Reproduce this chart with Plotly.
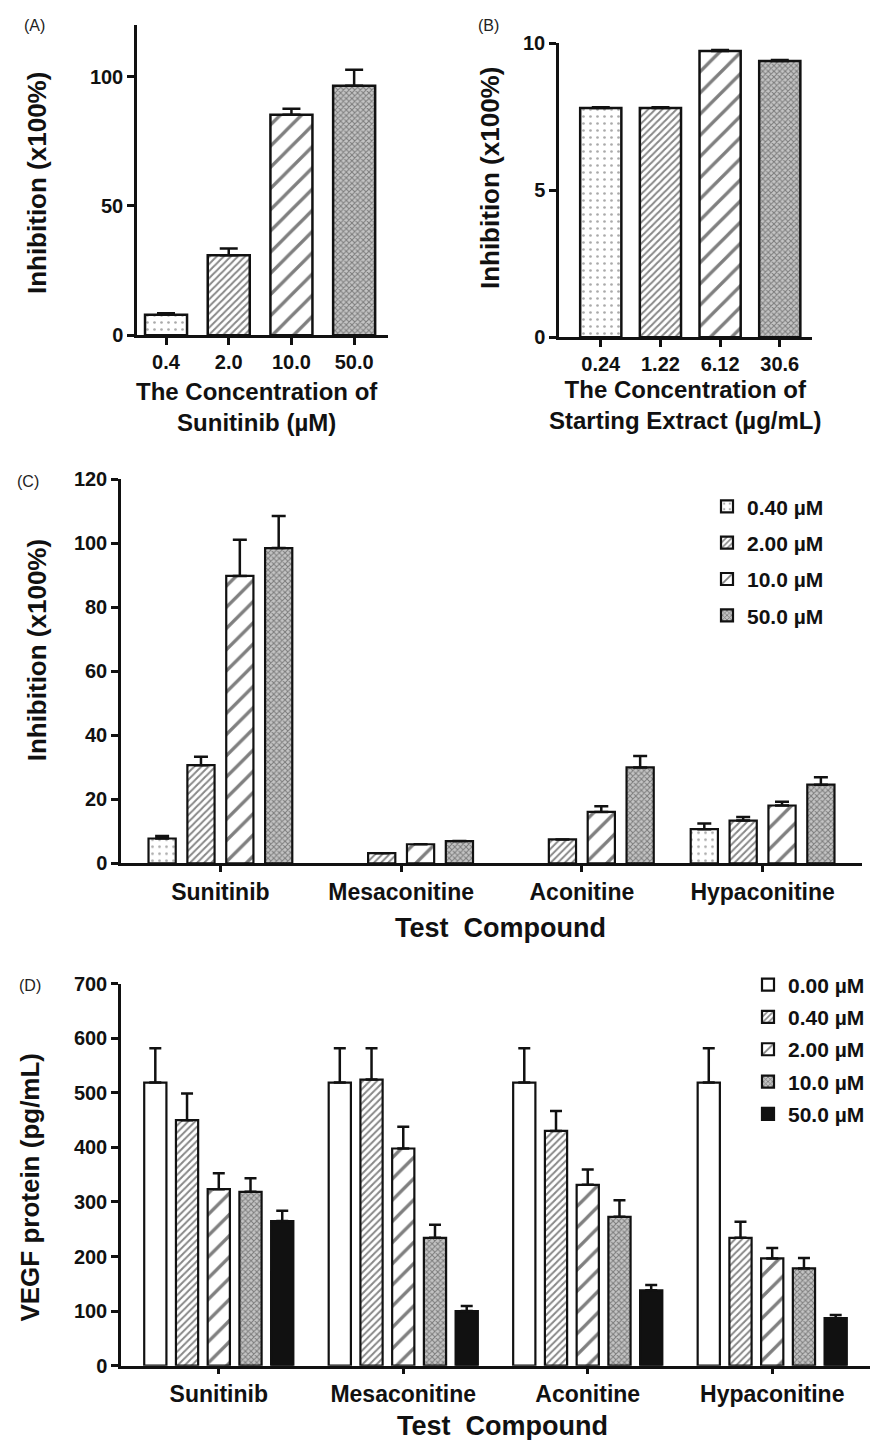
import plotly.graph_objects as go

# ---------------- data ----------------
a_labels = ["0.4", "2.0", "10.0", "50.0"]
a_values = [7.9, 30.9, 85.3, 96.5]
a_errors = [0.6, 2.6, 2.3, 6.2]

b_labels = ["0.24", "1.22", "6.12", "30.6"]
b_values = [7.79, 7.79, 9.73, 9.39]
b_errors = [0.03, 0.03, 0.03, 0.03]

compounds = ["Sunitinib", "Mesaconitine", "Aconitine", "Hypaconitine"]

c_series = ["0.40 µM", "2.00 µM", "10.0 µM", "50.0 µM"]
c_values = [
    [7.8, None, None, 10.7],
    [30.7, 3.2, 7.5, 13.4],
    [89.8, 6.0, 16.1, 18.1],
    [98.5, 7.0, 30.0, 24.6],
]
c_errors = [
    [0.8, None, None, 1.8],
    [2.6, 0.0, 0.0, 1.1],
    [11.3, 0.0, 1.8, 1.2],
    [10.0, 0.0, 3.6, 2.3],
]

d_series = ["0.00 µM", "0.40 µM", "2.00 µM", "10.0 µM", "50.0 µM"]
d_values = [
    [518.6, 518.6, 518.6, 518.6],
    [449.7, 524.1, 430.1, 234.3],
    [323.4, 397.8, 331.3, 196.5],
    [318.5, 234.3, 272.7, 178.2],
    [265.0, 100.0, 138.0, 87.0],
]
d_errors = [
    [63.0, 63.0, 63.0, 63.0],
    [48.8, 57.4, 36.6, 29.3],
    [29.3, 39.7, 28.1, 18.9],
    [25.0, 23.8, 30.5, 18.9],
    [19.0, 9.6, 10.0, 6.0],
]

# ---------------- styles ----------------
FONT = "Liberation Sans, Arial, Helvetica, sans-serif"
INK = "#111111"

PAT = {
    "white": dict(shape="", fgcolor=INK, bgcolor="white", size=8, solidity=0.2),
    "dots": dict(shape=".", fgcolor="#555555", bgcolor="white", size=7, solidity=0.12),
    "dense": dict(shape="/", fgcolor=INK, bgcolor="white", size=5, solidity=0.4),
    "wide": dict(shape="/", fgcolor="#000000", bgcolor="white", size=15, solidity=0.22),
    "check": dict(shape="x", fgcolor="#333333", bgcolor="#c4c4c4", size=4, solidity=0.45),
    "black": dict(shape="", fgcolor=INK, bgcolor=INK, size=8, solidity=0.2),
}
FILL = {"white": "white", "black": INK}

ab_styles = ["dots", "dense", "wide", "check"]
c_styles = ["dots", "dense", "wide", "check"]
d_styles = ["white", "dense", "wide", "check", "black"]


def pattern_arrays(names):
    return dict(
        shape=[PAT[n]["shape"] for n in names],
        fgcolor=[PAT[n]["fgcolor"] for n in names],
        bgcolor=[PAT[n]["bgcolor"] for n in names],
        size=[PAT[n]["size"] for n in names],
        solidity=[PAT[n]["solidity"] for n in names],
    )


def err(arr, w):
    return dict(type="data", array=arr, arrayminus=[0 if v is not None else None for v in arr],
                symmetric=False, color=INK, thickness=2.5, width=w, visible=True)


fig = go.Figure()

# Panel A
fig.add_trace(go.Bar(
    x=a_labels, y=a_values, width=0.67, xaxis="x", yaxis="y", showlegend=False,
    marker=dict(color="white", line=dict(color=INK, width=2.5), pattern=pattern_arrays(ab_styles)),
    error_y=err(a_errors, 9),
))
# Panel B
fig.add_trace(go.Bar(
    x=b_labels, y=b_values, width=0.69, xaxis="x2", yaxis="y2", showlegend=False,
    marker=dict(color="white", line=dict(color=INK, width=2.5), pattern=pattern_arrays(ab_styles)),
    error_y=err(b_errors, 9),
))
# Panel C
for i, name in enumerate(c_series):
    st = c_styles[i]
    fig.add_trace(go.Bar(
        x=compounds, y=c_values[i], name=name, xaxis="x3", yaxis="y3",
        legend="legend", legendgroup="c" + str(i),
        marker=dict(color=FILL.get(st, "white"), line=dict(color=INK, width=2.2), pattern=PAT[st]),
        error_y=err(c_errors[i], 7),
    ))
# Panel D
for i, name in enumerate(d_series):
    st = d_styles[i]
    fig.add_trace(go.Bar(
        x=compounds, y=d_values[i], name=name, xaxis="x4", yaxis="y4",
        legend="legend2", legendgroup="d" + str(i),
        marker=dict(color=FILL.get(st, "white"), line=dict(color=INK, width=2.2), pattern=PAT[st]),
        error_y=err(d_errors[i], 6),
    ))

W, H = 877, 1440
# the page capture squeezes the figure vertically a little; target positions are
# given in picture pixels and mapped back to figure pixels here
Y_OFF, Y_SCALE = 11.0, 0.9842


def px(x):
    return x / W


def py(y):
    return 1 - ((y - Y_OFF) / Y_SCALE) / H


axis_common = dict(showline=True, linecolor=INK, linewidth=2.5, ticks="outside", tickcolor=INK,
                   tickwidth=2.5, ticklen=7, showgrid=False, zeroline=False,
                   tickfont=dict(family=FONT, size=20, color=INK, weight="bold"))
cat_axis = {**axis_common, "ticklen": 6,
            "tickfont": dict(family=FONT, size=23, color=INK, weight="bold")}

fig.update_layout(
    width=W, height=H, margin=dict(l=0, r=0, t=0, b=0),
    paper_bgcolor="white", plot_bgcolor="white",
    barmode="group", bargap=0.14, bargroupgap=0.3,
    font=dict(family=FONT, color=INK),
    xaxis=dict(domain=[px(137), px(388)], anchor="y", type="category", range=[-0.463, 3.54], **axis_common),
    yaxis=dict(domain=[py(335), py(25)], anchor="x", range=[0, 120], tickvals=[0, 50, 100], **axis_common),
    xaxis2=dict(domain=[px(559), px(812)], anchor="y2", type="category", range=[-0.70, 3.54], **axis_common),
    yaxis2=dict(domain=[py(337), py(43)], anchor="x2", range=[0, 10], tickvals=[0, 5, 10], **axis_common),
    xaxis3=dict(domain=[px(121), px(862)], anchor="y3", type="category", range=[-0.55, 3.55], **cat_axis),
    yaxis3=dict(domain=[py(863), py(479)], anchor="x3", range=[0, 120], dtick=20, **axis_common),
    xaxis4=dict(domain=[px(121), px(870)], anchor="y4", type="category", range=[-0.53, 3.53], **cat_axis),
    yaxis4=dict(domain=[py(1365), py(983)], anchor="x4", range=[0, 700], dtick=100, **axis_common),
    legend=dict(x=px(707), y=py(486), xanchor="left", yanchor="top", bgcolor="rgba(0,0,0,0)",
                font=dict(family=FONT, size=21, color=INK, weight="bold"), tracegroupgap=6,
                traceorder="grouped"),
    legend2=dict(x=px(748), y=py(964), xanchor="left", yanchor="top", bgcolor="rgba(0,0,0,0)",
                 font=dict(family=FONT, size=21, color=INK, weight="bold"), tracegroupgap=2,
                 traceorder="grouped"),
)

bold = dict(family=FONT, color=INK, weight="bold")
ann = [
    # panel letters
    dict(text="(A)", x=px(34), y=py(25), font=dict(family=FONT, size=16, color="#222")),
    dict(text="(B)", x=px(489), y=py(25), font=dict(family=FONT, size=16, color="#222")),
    dict(text="(C)", x=px(28), y=py(481), font=dict(family=FONT, size=16, color="#222")),
    dict(text="(D)", x=px(30), y=py(985), font=dict(family=FONT, size=16, color="#222")),
    # axis titles
    dict(text="The Concentration of<br>Sunitinib (µM)", x=px(257), y=py(407), font=dict(size=24, **bold)),
    dict(text="Inhibition (x100%)", x=px(37), y=py(183), textangle=-90, font=dict(size=26, **bold)),
    dict(text="The Concentration of<br>Starting Extract (µg/mL)", x=px(685), y=py(405), font=dict(size=24, **bold)),
    dict(text="Inhibition (x100%)", x=px(490), y=py(178), textangle=-90, font=dict(size=26, **bold)),
    dict(text="Inhibition (x100%)", x=px(37), y=py(650), textangle=-90, font=dict(size=26, **bold)),
    dict(text="Test  Compound", x=px(500), y=py(928), font=dict(size=27, **bold)),
    dict(text="VEGF protein (pg/mL)", x=px(30), y=py(1187), textangle=-90, font=dict(size=26, **bold)),
    dict(text="Test  Compound", x=px(502), y=py(1425), font=dict(size=27, **bold)),
]
for a in ann:
    a.update(xref="paper", yref="paper", showarrow=False, xanchor="center", yanchor="middle")
fig.update_layout(annotations=ann)

fig.write_html(
    "out.html",
    config={"displayModeBar": False},
    post_script="document.body.style.margin='0';document.body.style.overflow='hidden';",
)
